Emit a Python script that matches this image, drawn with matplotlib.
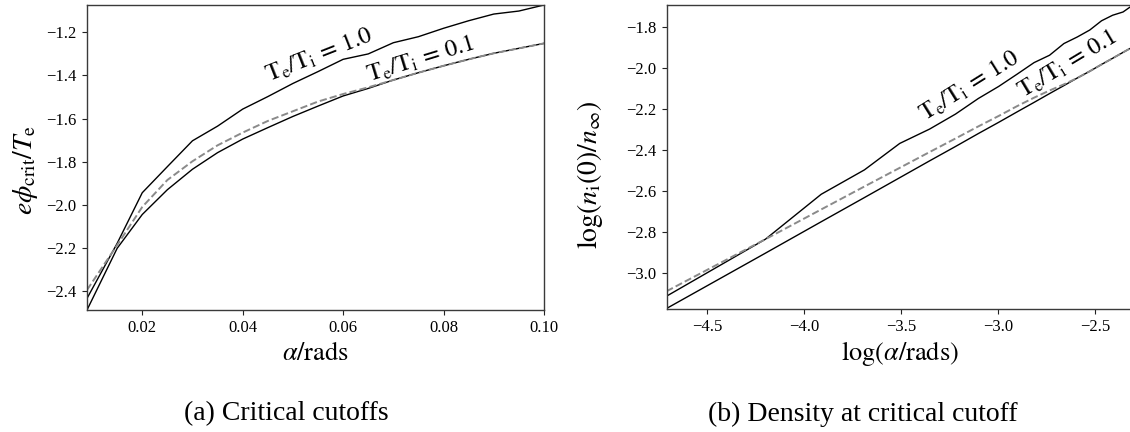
import numpy as np
import matplotlib
matplotlib.use("Agg")
import matplotlib.pyplot as plt

plt.rcParams['font.family'] = ['Liberation Serif', 'DejaVu Serif']
plt.rcParams['mathtext.fontset'] = 'stix'
plt.rcParams['axes.unicode_minus'] = True

# ---- data ----
alpha = [0.009, 0.015, 0.02, 0.025, 0.03, 0.035, 0.04, 0.045, 0.05, 0.055,
         0.06, 0.065, 0.07, 0.075, 0.08, 0.085, 0.09, 0.095, 0.1]

phi_ratio_1 = [-2.434, -2.179, -1.944, -1.823, -1.703, -1.635, -1.556, -1.498,
               -1.437, -1.382, -1.325, -1.300, -1.248, -1.220, -1.181, -1.146,
               -1.115, -1.101, -1.073]
phi_ratio_01 = [-2.488, -2.202, -2.045, -1.930, -1.835, -1.758, -1.695, -1.642,
                -1.590, -1.542, -1.495, -1.460, -1.421, -1.387, -1.355, -1.325,
                -1.297, -1.274, -1.251]
phi_model = [-2.395, -2.187, -2.010, -1.885, -1.798, -1.724, -1.665, -1.611,
             -1.566, -1.521, -1.486, -1.455, -1.421, -1.387, -1.355, -1.325,
             -1.297, -1.274, -1.251]

dens_ratio_1 = [-3.113, -2.835, -2.616, -2.497, -2.368, -2.298, -2.225, -2.149,
                -2.090, -2.030, -1.974, -1.938, -1.881, -1.849, -1.815, -1.770,
                -1.743, -1.727, -1.693]
dens_ratio_01 = [-3.173, -2.903, -2.750, -2.632, -2.535, -2.453, -2.383, -2.320,
                 -2.265, -2.214, -2.168, -2.125, -2.086, -2.049, -2.016, -1.983,
                 -1.953, -1.924, -1.897]
dens_model = [-3.089, -2.835, -2.690, -2.578, -2.487, -2.410, -2.344, -2.285,
              -2.234, -2.186, -2.145, -2.110, -2.080, -2.049, -2.016, -1.983,
              -1.953, -1.924, -1.897]

label_1 = r'$\mathrm{T_e/T_i}\,=\,1.0$'
label_01 = r'$\mathrm{T_e/T_i}\,=\,0.1$'
caption_a = '(a) Critical cutoffs'
caption_b = '(b) Density at critical cutoff'

W, H = 1130, 432
fig = plt.figure(figsize=(W / 100, H / 100), dpi=100)

axL = fig.add_axes([87 / W, 1 - 310 / H, (544 - 87) / W, (310 - 5) / H])
axR = fig.add_axes([666.5 / W, 1 - 308.5 / H, (1133 - 666.5) / W, (308.5 - 5) / H])

spine_col = '#3a3a3a'
for ax in (axL, axR):
    for s in ax.spines.values():
        s.set_color(spine_col)
        s.set_linewidth(1.0)
    ax.tick_params(direction='out', length=3.5, width=0.8, labelsize=12,
                   top=False, right=False, color='#222222', pad=4)

# left panel
axL.plot(alpha, phi_ratio_1, color='black', lw=1.0)
axL.plot(alpha, phi_ratio_01, color='black', lw=1.0)
axL.plot(alpha, phi_model, color='#8a8a8a', lw=1.4, ls='--')
axL.set_xlim(min(alpha), max(alpha))
axL.set_ylim(min(phi_ratio_01), max(phi_ratio_1))
axL.set_xticks([0.02, 0.04, 0.06, 0.08, 0.10])
axL.set_xticklabels(['0.02', '0.04', '0.06', '0.08', '0.10'])
axL.set_yticks([-2.4, -2.2, -2.0, -1.8, -1.6, -1.4, -1.2])
axL.set_xlabel(r'$\alpha/\mathrm{rads}$', fontsize=19)
axL.set_ylabel(r'$e\phi_{\mathrm{crit}}/T_{\mathrm{e}}$', fontsize=20)
axL.xaxis.set_label_coords(0.5, (310 - 353) / 305)
axL.xaxis.label.set_verticalalignment('center')
axL.yaxis.set_label_coords((25 - 87) / 457, 0.46)
axL.yaxis.label.set_verticalalignment('center')
axL.text(0.0552, -1.305, label_1, rotation=21.5, ha='center', va='center', fontsize=17.5)
axL.text(0.0755, -1.328, label_01, rotation=17, ha='center', va='center', fontsize=17.5)

# right panel
logalpha = np.log(alpha)
axR.plot(logalpha, dens_ratio_1, color='black', lw=1.0)
axR.plot(logalpha, dens_ratio_01, color='black', lw=1.0)
axR.plot(logalpha, dens_model, color='#8a8a8a', lw=1.4, ls='--')
axR.set_xlim(logalpha.min(), logalpha.max())
axR.set_ylim(min(dens_ratio_01), max(dens_ratio_1))
axR.set_xticks([-4.5, -4.0, -3.5, -3.0, -2.5])
axR.set_yticks([-3.0, -2.8, -2.6, -2.4, -2.2, -2.0, -1.8])
axR.set_xlabel(r'$\log(\alpha/\mathrm{rads})$', fontsize=19)
axR.set_ylabel(r'$\log(n_{\mathrm{i}}(0)/n_{\infty})$', fontsize=20)
axR.xaxis.set_label_coords(0.5, (308.5 - 353) / 303.5)
axR.xaxis.label.set_verticalalignment('center')
axR.yaxis.set_label_coords((590 - 666.5) / 466.5, 0.44)
axR.yaxis.label.set_verticalalignment('center')
axR.text(-3.146, -2.091, label_1, rotation=32, ha='center', va='center', fontsize=17.5)
axR.text(-2.643, -1.981, label_01, rotation=31, ha='center', va='center', fontsize=17.5)

fig.text(286 / W, 1 - 414 / H, caption_a, ha='center', va='center', fontsize=20)
fig.text(863 / W, 1 - 414 / H, caption_b, ha='center', va='center', fontsize=20)

fig.savefig('out.png', dpi=100)
